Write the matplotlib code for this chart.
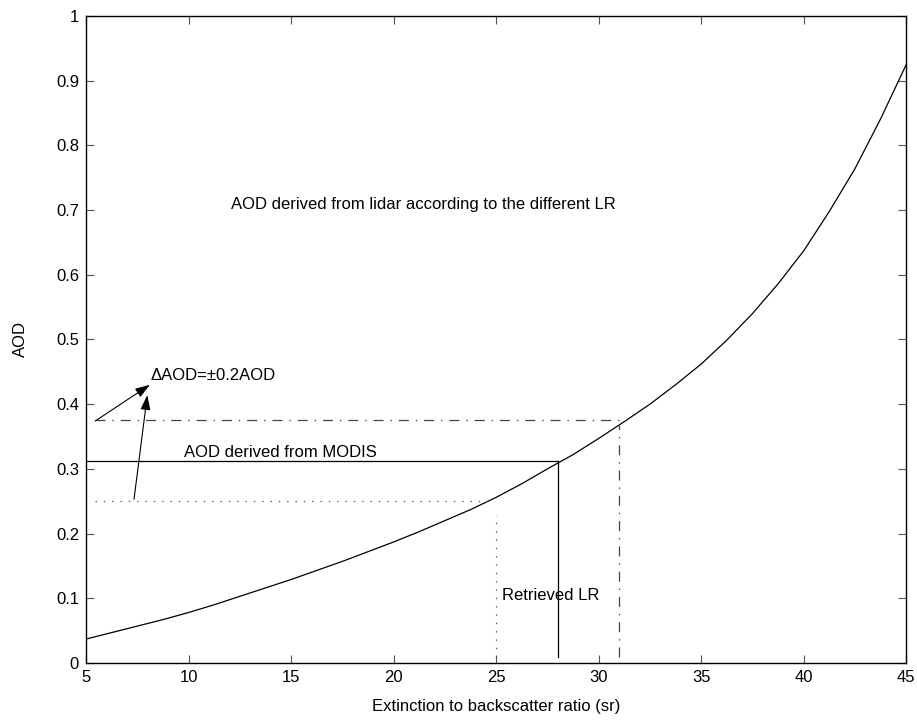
import matplotlib
matplotlib.use("Agg")
import matplotlib.pyplot as plt

plt.rcParams['font.family'] = ['Liberation Sans', 'DejaVu Sans']
plt.rcParams['lines.scale_dashes'] = False

# AOD derived from lidar for each lidar ratio
lr = [5, 6.25, 7.5, 8.75, 10, 11.25, 12.5, 13.75, 15, 16.25, 17.5, 18.75, 20,
      21.25, 22.5, 23.75, 25, 26.25, 27.5, 28.75, 30, 31.25, 32.5, 33.75, 35,
      36.25, 37.5, 38.75, 40, 41.25, 42.5, 43.75, 45]
aod_lidar = [0.037, 0.047, 0.057, 0.067, 0.078, 0.090, 0.103, 0.116, 0.129,
             0.143, 0.157, 0.172, 0.187, 0.203, 0.220, 0.237, 0.256, 0.277,
             0.300, 0.322, 0.347, 0.373, 0.400, 0.430, 0.462, 0.499, 0.540,
             0.586, 0.637, 0.698, 0.764, 0.841, 0.925]

aod_modis = 0.3125
aod_hi = 0.375   # +20 %
aod_lo = 0.25    # -20 %
lr_retrieved = 28
lr_hi = 31
lr_lo = 25

fig = plt.figure(figsize=(9.17, 7.23), dpi=100)
ax = fig.add_axes([0.0938, 0.083, 0.8945, 0.895])

ax.plot(lr, aod_lidar, color='black', lw=0.9)

# MODIS AOD and retrieved LR
ax.plot([5, lr_retrieved], [aod_modis, aod_modis], color='black', lw=0.9)
ax.plot([lr_retrieved, lr_retrieved], [0.01, aod_modis], color='black', lw=0.9)

# +20 % (dash-dot)
ax.plot([5.45, lr_hi], [aod_hi, aod_hi], color='#444444', lw=0.9,
        dashes=(7.2, 5, 1, 5))
ax.plot([lr_hi, lr_hi], [0.01, 0.370], color='#444444', lw=0.9,
        dashes=(7.2, 5, 1, 5))

# -20 % (dotted)
ax.plot([5.45, 24.8], [aod_lo, aod_lo], color='#555555', lw=0.9, dashes=(1, 5))
ax.plot([lr_lo, lr_lo], [0.01, 0.229], color='#555555', lw=0.9, dashes=(1, 5))

arrow = dict(arrowstyle='-|>,head_length=0.9,head_width=0.3', color='black',
             lw=0.8, shrinkA=0, shrinkB=0)
ax.annotate('', xy=(8.12, 0.430), xytext=(5.45, 0.374), arrowprops=arrow)
ax.annotate('', xy=(7.99, 0.414), xytext=(7.34, 0.253), arrowprops=arrow)

fs = 12
ax.text(8.15, 0.444, 'ΔAOD=±0.2AOD', fontsize=fs, va='center', ha='left')
ax.text(9.78, 0.326, 'AOD derived from MODIS', fontsize=fs, va='center', ha='left')
ax.text(25.28, 0.105, 'Retrieved LR', fontsize=fs, va='center', ha='left')
ax.text(21.46, 0.708, 'AOD derived from lidar according to the different LR',
        fontsize=fs, va='center', ha='center')

ax.set_xlim(5, 45)
ax.set_ylim(0, 1)
ax.set_xticks([5, 10, 15, 20, 25, 30, 35, 40, 45])
ax.set_yticks([0, 0.1, 0.2, 0.3, 0.4, 0.5, 0.6, 0.7, 0.8, 0.9, 1])
ax.set_yticklabels(['0', '0.1', '0.2', '0.3', '0.4', '0.5', '0.6', '0.7', '0.8', '0.9', '1'])
ax.tick_params(direction='in', length=6, width=0.8, color='#555555',
               top=True, right=True, labelsize=fs, pad=5)
for s in ax.spines.values():
    s.set_linewidth(1.0)

ax.set_xlabel('Extinction to backscatter ratio (sr)', fontsize=fs, labelpad=10)
ax.set_ylabel('AOD', fontsize=fs, labelpad=20)

fig.savefig('out.png', dpi=100)
